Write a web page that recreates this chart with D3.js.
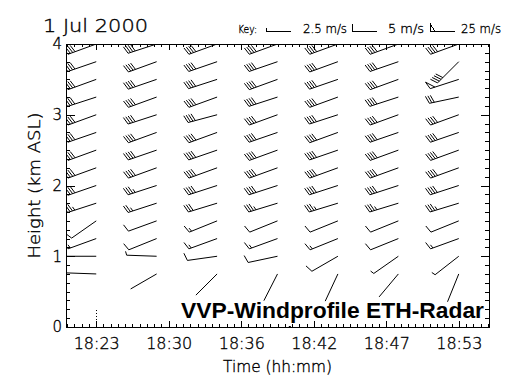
<!DOCTYPE html>
<html>
<head>
<meta charset="utf-8">
<script src="https://d3js.org/d3.v7.min.js"></script>
<style>
  body { margin: 0; background: #fff; }
  svg text { font-family: "DejaVu Sans", sans-serif; font-weight: 200; fill: #000; stroke: #000; stroke-width: 0.35; }
</style>
</head>
<body>
<div id="chart"></div>
<script>
// measurement times (decimal hours) and levels (km ASL)
const times = [18.4, 18.4833, 18.5667, 18.65, 18.7333, 18.8167, 18.9];
const heights = [4.0, 3.75, 3.5, 3.25, 3.0, 2.75, 2.5, 2.25, 2.0, 1.75, 1.5, 1.25, 1.0, 0.75];

// wind direction (deg) per profile, top level first
const dir1 = [250, 251, 250, 252, 250, 251, 250, 250, 251, 252, 235, 250, 270, 272];
const dir2 = [252, 250, 251, 250, 252, 250, 251, 250, 252, 252, 250, 248, 272, 240];
const dir3 = [250, 251, 252, 250, 255, 250, 251, 250, 252, 253, 248, 250, 262, 225];
const dir4 = [250, 251, 250, 252, 250, 251, 250, 250, 252, 253, 248, 250, 258, 207];
const dir5 = [250, 250, 251, 250, 252, 250, 251, 250, 252, 253, 248, 248, 240, 205];
const dir6 = [250, 251, 250, 252, 250, 251, 250, 250, 252, 253, 248, 248, 235, 220];
const dir7 = [250, 225, 252, 258, 250, 251, 250, 250, 252, 253, 248, 250, 232, 202];

// wind speed (m/s) per profile, top level first
const spd1 = [20, 20, 20, 20, 20, 20, 20, 20, 20, 17.5, 5, 7.5, 0, 0];
const spd2 = [20, 20, 20, 20, 20, 20, 20, 20, 17.5, 12.5, 5, 5, 2.5, 0];
const spd3 = [20, 20, 20, 20, 20, 20, 20, 20, 20, 15, 7.5, 7.5, 5, 0];
const spd4 = [20, 20, 20, 20, 20, 20, 20, 20, 20, 17.5, 5, 7.5, 5, 0];
const spd5 = [20, 20, 20, 20, 20, 20, 20, 20, 20, 17.5, 5, 7.5, 5, 0];
const spd6 = [20, 20, 20, 20, 20, 20, 20, 20, 20, 17.5, 5, 5, 2.5, 0];
const spd7 = [20, 20, 25, 15, 20, 20, 20, 20, 20, 17.5, 5, 7.5, 2.5, 0];

const dirs = [dir1, dir2, dir3, dir4, dir5, dir6, dir7];
const spds = [spd1, spd2, spd3, spd4, spd5, spd6, spd7];

// axis ticks
const xTicks = [18.4, 18.5, 18.6, 18.7, 18.8, 18.9];
const xTickLabels = ['18:23', '18:30', '18:36', '18:42', '18:47', '18:53'];
const yTicks = [0, 1, 2, 3, 4];

// key entries
const keySpeeds = [2.5, 5, 25];
const keyLabels = ['2.5 m/s', '5 m/s', '25 m/s'];

// small markers near the ground
const groundLineTime = 18.4;
const groundDotTime = 18.667;

const width = 531, height = 385;
const margin = { top: 44, right: 42, bottom: 58, left: 66 };

const svg = d3.select('#chart').append('svg')
    .attr('width', width)
    .attr('height', height);

const x = d3.scaleLinear().domain([18.3583, 18.9417]).range([margin.left, width - margin.right]);
const y = d3.scaleLinear().domain([0, 4]).range([height - margin.bottom, margin.top]);

const x0 = x.range()[0], x1 = x.range()[1];
const y0 = y.range()[0], y1 = y.range()[1];

// barb drawing: staff from anchor towards direction, feathers at the far end
const FL = 8, SP = 2.5, FANG = 72;
function barbPath(px, py, dir, spd, fang, len) {
    const L = len || 30;
    const a = dir * Math.PI / 180;
    const sx = Math.sin(a), sy = -Math.cos(a);
    const ex = px + L * sx, ey = py + L * sy;
    const t = (fang === undefined ? FANG : fang) * Math.PI / 180;
    const fx = Math.cos(t) * sx + Math.sin(t) * (-sy);
    const fy = Math.cos(t) * sy + Math.sin(t) * sx;
    let p = `M${px},${py}L${ex},${ey}`;
    let v = Math.round(spd / 2.5) * 2.5;
    let pos = L;
    while (v >= 25) {
        const bx = px + pos * sx, by = py + pos * sy;
        const cx = px + (pos - 5) * sx, cy = py + (pos - 5) * sy;
        p += `M${bx},${by}L${bx + FL * fx},${by + FL * fy}L${cx},${cy}`;
        pos -= 6;
        v -= 25;
    }
    while (v >= 5) {
        const bx = px + pos * sx, by = py + pos * sy;
        p += `M${bx},${by}L${bx + FL * fx},${by + FL * fy}`;
        pos -= SP;
        v -= 5;
    }
    if (v >= 2.5) {
        const bx = px + pos * sx, by = py + pos * sy;
        p += `M${bx},${by}L${bx + FL / 2 * fx},${by + FL / 2 * fy}`;
    }
    return p;
}

svg.append('clipPath').attr('id', 'plotclip')
    .append('rect')
    .attr('x', x0).attr('y', y1)
    .attr('width', x1 - x0).attr('height', y0 - y1);

// flatten to barb records
const barbs = [];
times.forEach((t, i) => {
    heights.forEach((h, j) => {
        barbs.push({ t: t, h: h, dir: dirs[i][j], spd: spds[i][j] });
    });
});

svg.append('g')
    .attr('clip-path', 'url(#plotclip)')
    .selectAll('path')
    .data(barbs)
    .enter().append('path')
    .attr('d', d => barbPath(x(d.t), y(d.h), d.dir, d.spd))
    .attr('fill', 'none')
    .attr('stroke', '#000')
    .attr('stroke-width', 1);

// ground markers
svg.append('line')
    .attr('x1', x(groundLineTime)).attr('x2', x(groundLineTime))
    .attr('y1', y0 - 17).attr('y2', y0)
    .attr('stroke', '#000').attr('stroke-dasharray', '1,2')
    .attr('shape-rendering', 'crispEdges');
svg.append('rect')
    .attr('x', x(groundDotTime) - 1).attr('y', y0 - 1)
    .attr('width', 2).attr('height', 2).attr('fill', '#000');

// plot frame
svg.append('rect')
    .attr('x', x0).attr('y', y1)
    .attr('width', x1 - x0).attr('height', y0 - y1)
    .attr('fill', 'none').attr('stroke', '#000')
    .attr('shape-rendering', 'crispEdges');

// axes with inward ticks
const xMinor = d3.range(18.36, 18.945, 0.01).map(v => +v.toFixed(2));
const yMinor = d3.range(0, 4.001, 0.125);

function styleAxis(g) {
    g.select('.domain').remove();
    g.selectAll('line').attr('shape-rendering', 'crispEdges');
}

svg.append('g')
    .attr('transform', `translate(0,${y0})`)
    .call(d3.axisBottom(x).tickValues(xMinor).tickSize(-3).tickFormat(''))
    .call(styleAxis);
svg.append('g')
    .attr('transform', `translate(0,${y0})`)
    .call(d3.axisBottom(x).tickValues(xTicks).tickSize(-6).tickPadding(11)
        .tickFormat((d, i) => xTickLabels[i]))
    .call(styleAxis)
    .selectAll('text').attr('font-size', 16).attr('font-family', null);

svg.append('g')
    .attr('transform', `translate(0,${y1})`)
    .call(d3.axisTop(x).tickValues(xMinor).tickSize(-3).tickFormat(''))
    .call(styleAxis);
svg.append('g')
    .attr('transform', `translate(0,${y1})`)
    .call(d3.axisTop(x).tickValues(xTicks).tickSize(-6).tickFormat(''))
    .call(styleAxis);

svg.append('g')
    .attr('transform', `translate(${x0},0)`)
    .call(d3.axisLeft(y).tickValues(yMinor).tickSize(-4).tickFormat(''))
    .call(styleAxis);
svg.append('g')
    .attr('transform', `translate(${x0},0)`)
    .call(d3.axisLeft(y).tickValues(yTicks).tickSize(-8.5).tickPadding(4).tickFormat(d3.format('d')))
    .call(styleAxis)
    .selectAll('text').attr('font-size', 15).attr('font-family', null);

svg.append('g')
    .attr('transform', `translate(${x1},0)`)
    .call(d3.axisRight(y).tickValues(yMinor).tickSize(-4).tickFormat(''))
    .call(styleAxis);
svg.append('g')
    .attr('transform', `translate(${x1},0)`)
    .call(d3.axisRight(y).tickValues(yTicks).tickSize(-8.5).tickFormat(''))
    .call(styleAxis);

// axis titles
svg.append('text')
    .attr('x', (x0 + x1) / 2).attr('y', 372)
    .attr('text-anchor', 'middle')
    .attr('font-size', 15)
    .attr('textLength', 109).attr('lengthAdjust', 'spacingAndGlyphs')
    .text('Time (hh:mm)');

svg.append('text')
    .attr('transform', `translate(40,${(y0 + y1) / 2}) rotate(-90)`)
    .attr('text-anchor', 'middle')
    .attr('font-size', 15)
    .attr('textLength', 146).attr('lengthAdjust', 'spacingAndGlyphs')
    .text('Height (km ASL)');

// title
svg.append('text')
    .attr('x', 43).attr('y', 32)
    .attr('font-size', 17)
    .attr('textLength', 105).attr('lengthAdjust', 'spacingAndGlyphs')
    .text('1 Jul 2000');

// key
svg.append('text')
    .attr('x', 238).attr('y', 33)
    .attr('font-size', 11)
    .attr('textLength', 19).attr('lengthAdjust', 'spacingAndGlyphs')
    .text('Key:');
const keyX = [291, 377, 455];
const keyTextX = [303, 388, 461];
const keyTextW = [44, 36, 40];
keySpeeds.forEach((s, i) => {
    svg.append('path')
        .attr('d', barbPath(keyX[i], 31.5, 270, s, 90, 25))
        .attr('fill', 'none').attr('stroke', '#000')
        .attr('shape-rendering', 'crispEdges');
    svg.append('text')
        .attr('x', keyTextX[i]).attr('y', 33)
        .attr('font-size', 12)
        .attr('textLength', keyTextW[i]).attr('lengthAdjust', 'spacingAndGlyphs')
        .text(keyLabels[i]);
});

// annotation
svg.append('text')
    .attr('x', 181).attr('y', 318)
    .attr('font-size', 22)
    .style('font-family', '"Liberation Sans", Arial, sans-serif')
    .style('font-weight', 'bold')
    .style('stroke', 'none')
    .attr('textLength', 303).attr('lengthAdjust', 'spacingAndGlyphs')
    .text('VVP-Windprofile ETH-Radar');
</script>
</body>
</html>
